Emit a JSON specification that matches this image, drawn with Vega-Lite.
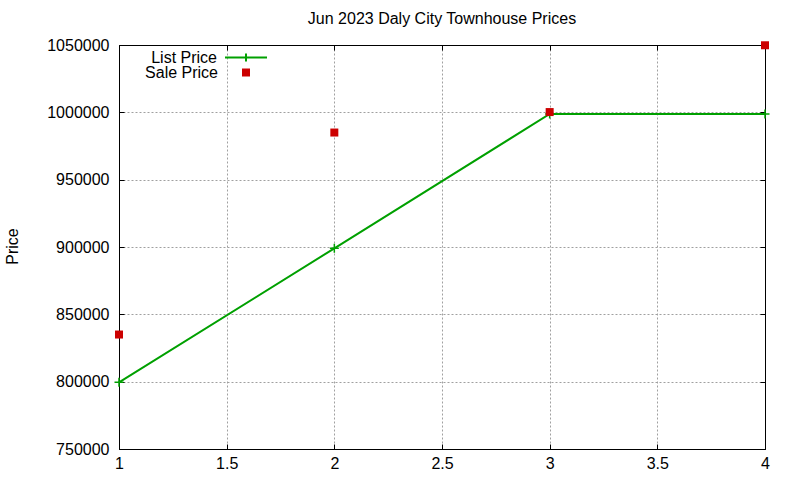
{
  "$schema": "https://vega.github.io/schema/vega-lite/v6.json",
  "autosize": "none",
  "width": 646,
  "height": 404,
  "padding": {"left": 119, "top": 45, "right": 35, "bottom": 31},
  "background": "white",
  "title": {"text": "Jun 2023 Daly City Townhouse Prices", "anchor": "middle", "frame": "group", "baseline": "alphabetic", "offset": -4, "fontSize": 16, "fontWeight": "normal", "font": "Liberation Sans", "color": "black"},
  "config": {
    "view": {"stroke": "black", "strokeWidth": 1},
    "axis": {"labelFont": "Liberation Sans", "labelFontSize": 16, "labelColor": "black", "titleFont": "Liberation Sans", "titleFontSize": 16, "titleFontWeight": "normal", "titleColor": "black", "domainColor": "black", "tickColor": "black", "gridColor": "#a0a0a0", "gridDash": [2, 2], "gridWidth": 1, "tickSize": -5, "labelFlush": false, "labelOverlap": false},
    "legend": {"labelFont": "Liberation Sans", "labelFontSize": 16, "labelColor": "black", "padding": 0, "title": null, "labelAlign": "right"}
  },
  "data": {"values": [
    {"x": 1, "price": 799500, "series": "List Price"},
    {"x": 2, "price": 899000, "series": "List Price"},
    {"x": 3, "price": 998800, "series": "List Price"},
    {"x": 4, "price": 998800, "series": "List Price"},
    {"x": 1, "price": 835000, "series": "Sale Price"},
    {"x": 2, "price": 985000, "series": "Sale Price"},
    {"x": 3, "price": 1000200, "series": "Sale Price"},
    {"x": 4, "price": 1049800, "series": "Sale Price"}
  ]},
  "layer": [
    {
      "transform": [{"filter": "datum.series === 'List Price'"}],
      "mark": {"type": "line", "strokeWidth": 2, "clip": false},
      "encoding": {
        "x": {"field": "x", "type": "quantitative", "scale": {"domain": [1, 4], "nice": false, "zero": false}, "axis": {"orient": "top", "labels": false, "grid": false, "title": null, "values": [1, 1.5, 2, 2.5, 3, 3.5, 4]}},
        "y": {"field": "price", "type": "quantitative", "scale": {"domain": [750000, 1050000], "nice": false, "zero": false}, "axis": {"orient": "right", "labels": false, "grid": false, "title": null, "values": [750000, 800000, 850000, 900000, 950000, 1000000, 1050000]}},
        "stroke": {"field": "series", "type": "nominal", "scale": {"domain": ["List Price"], "range": ["#00a000"]},
          "legend": {"orient": "none", "legendX": 105, "legendY": -9.5, "title": null, "symbolType": "M-1,0H1M0,-0.19V0.19", "symbolSize": 1764, "symbolStrokeWidth": 2, "symbolStrokeColor": "#00a000", "symbolFillColor": "transparent", "labelAlign": "right", "labelOffset": -51}
        }
      }
    },
    {
      "transform": [{"filter": "datum.series === 'List Price'"}],
      "mark": {"type": "point", "shape": "M-1,0H1M0,-1V1", "size": 81, "filled": false, "color": "#00a000", "strokeWidth": 1.5, "opacity": 1, "clip": false},
      "encoding": {
        "x": {"field": "x", "type": "quantitative", "axis": null},
        "y": {"field": "price", "type": "quantitative", "axis": null}
      }
    },
    {
      "transform": [{"filter": "datum.series === 'Sale Price'"}],
      "mark": {"type": "square", "size": 64, "opacity": 1, "clip": false},
      "encoding": {
        "x": {"field": "x", "type": "quantitative", "axis": {"orient": "bottom", "grid": true, "title": null, "format": "~g", "values": [1, 1.5, 2, 2.5, 3, 3.5, 4], "labelPadding": 11}},
        "y": {"field": "price", "type": "quantitative", "axis": {"orient": "left", "grid": true, "format": "d", "values": [750000, 800000, 850000, 900000, 950000, 1000000, 1050000], "labelPadding": 15, "title": "Price", "titleAngle": -90, "titleX": -107, "titleY": 201, "titleAlign": "center", "titleBaseline": "middle"}},
        "fill": {"field": "series", "type": "nominal", "scale": {"domain": ["Sale Price"], "range": ["#cc0000"]},
          "legend": {"orient": "none", "legendX": 119, "legendY": 19.5, "title": null, "symbolType": "square", "symbolSize": 64, "symbolFillColor": "#cc0000", "symbolStrokeWidth": 0, "labelAlign": "right", "labelOffset": -36}
        }
      }
    }
  ],
  "resolve": {"axis": {"x": "independent", "y": "independent"}}
}
